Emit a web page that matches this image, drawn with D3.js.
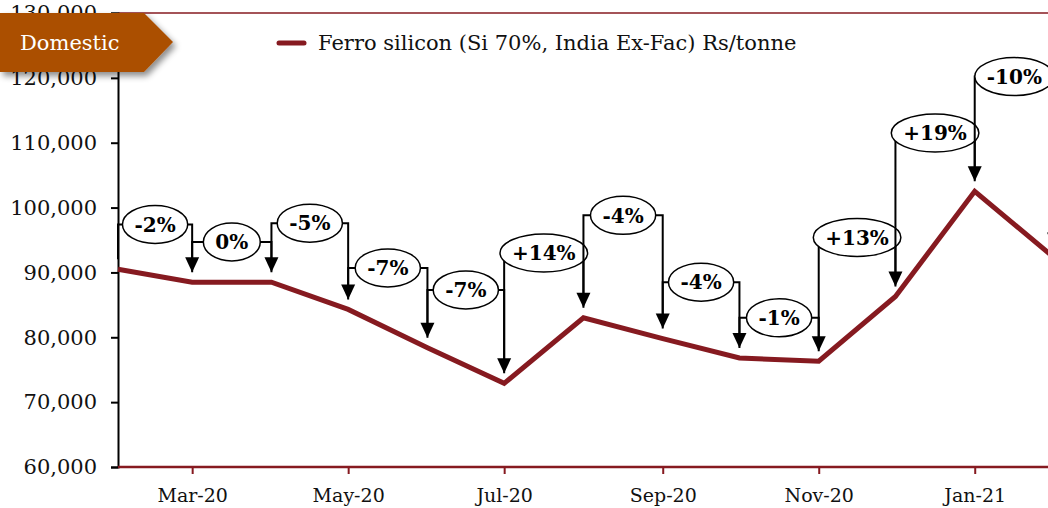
<!DOCTYPE html>
<html>
<head>
<meta charset="utf-8">
<script src="https://cdn.jsdelivr.net/npm/d3@7"></script>
<style>
  body { margin: 0; background: #fff; }
  svg { display: block; font-family: "DejaVu Serif", Georgia, serif; }
</style>
</head>
<body>
<div id="chart"></div>
<script>
// monthly prices, Rs/tonne
var months = ["2020-02", "2020-03", "2020-04", "2020-05", "2020-06", "2020-07", "2020-08",
              "2020-09", "2020-10", "2020-11", "2020-12", "2021-01", "2021-02"];
var prices = [90500, 88500, 88500, 84300, 78400, 72900, 83000, 79800, 76800, 76300, 86300, 102500, 92300];

// month on month change callouts (between month i and i+1)
var changeLabels = ["-2%", "0%", "-5%", "-7%", "-7%", "+14%", "-4%", "-4%", "-1%", "+13%", "+19%", "-10%"];
// height of each callout, in Rs/tonne (layout only)
var labelLevels = [97400, 94700, 97600, 90700, 87300, 93000, 98800, 88500, 83000, 95400, 111500, 120200];

var yTicks = [60000, 70000, 80000, 90000, 100000, 110000, 120000, 130000];
var xTickMonths = ["2020-03", "2020-05", "2020-07", "2020-09", "2020-11", "2021-01"];
var seriesName = "Ferro silicon (Si 70%, India Ex-Fac) Rs/tonne";
var bannerText = "Domestic";

var width = 1048, height = 508;
var red = "#861a20", ink = "#000";
var parse = d3.timeParse("%Y-%m");
var dates = months.map(parse);

var svg = d3.select("#chart").append("svg")
    .attr("width", width)
    .attr("height", height);

var x = d3.scaleTime()
    .domain([parse("2020-02"), parse("2021-02")])
    .range([118, 1054]);

var y = d3.scaleLinear()
    .domain([60000, 130000])
    .range([467, 13]);

// top frame line
svg.append("line")
    .attr("x1", 118).attr("x2", width)
    .attr("y1", y(130000)).attr("y2", y(130000))
    .style("stroke", red).style("stroke-width", 1.5);

// y axis
var yAxis = svg.append("g")
    .attr("transform", "translate(118,0)")
    .call(d3.axisLeft(y).tickValues(yTicks).tickSize(7).tickPadding(14).tickFormat(d3.format(",")));
yAxis.select(".domain").style("stroke", ink).style("stroke-width", 2);
yAxis.selectAll(".tick line").style("stroke", ink).style("stroke-width", 2);
yAxis.selectAll("text").style("font-size", "21px").style("fill", "#111")
    .style("font-family", "DejaVu Serif, serif");

// x axis
var xAxis = svg.append("g")
    .attr("transform", "translate(0," + y(60000) + ")")
    .call(d3.axisBottom(x).tickValues(xTickMonths.map(parse)).tickSize(7).tickPadding(15)
        .tickFormat(d3.timeFormat("%b-%y")));
xAxis.select(".domain").attr("d", "M118,0H" + width).style("stroke", red).style("stroke-width", 2.5);
xAxis.selectAll(".tick line").style("stroke", red).style("stroke-width", 2);
xAxis.selectAll("text").style("font-size", "19px").style("fill", "#111")
    .style("font-family", "DejaVu Serif, serif");

// price line
var line = d3.line()
    .x(function (d, i) { return x(dates[i]); })
    .y(function (d) { return y(d); });

svg.append("path")
    .datum(prices)
    .attr("d", line)
    .style("fill", "none")
    .style("stroke", red)
    .style("stroke-width", 5)
    .style("stroke-linejoin", "miter");

// change callouts
var notes = svg.append("g");
changeLabels.forEach(function (lab, i) {
    var x0 = x(dates[i]), x1 = x(dates[i + 1]);
    var ly = y(labelLevels[i]);
    var tip0 = y(prices[i]) - 10, tip1 = y(prices[i + 1]) - 10;

    var g = notes.append("g");
    g.append("path")
        .attr("d", "M" + x0 + "," + tip0 + "V" + ly + "H" + x1 + "V" + (tip1 - 14))
        .style("fill", "none").style("stroke", ink).style("stroke-width", 2);
    g.append("path")
        .attr("d", "M" + (x1 - 7) + "," + (tip1 - 15) + "L" + (x1 + 7) + "," + (tip1 - 15) + "L" + x1 + "," + tip1 + "Z")
        .style("fill", ink);

    var cx = (x0 + x1) / 2;
    var el = g.append("ellipse")
        .attr("cx", cx).attr("cy", ly)
        .style("fill", "#fff").style("stroke", ink).style("stroke-width", 1.5);
    var t = g.append("text")
        .attr("x", cx).attr("y", ly)
        .attr("dy", "0.36em")
        .attr("text-anchor", "middle")
        .style("font-size", "20px")
        .style("font-weight", "bold")
        .text(lab);
    var w = t.node().getBBox().width;
    el.attr("rx", w / 2 + 12).attr("ry", 19);
});

// legend
svg.append("line")
    .attr("x1", 279).attr("x2", 304)
    .attr("y1", 43).attr("y2", 43)
    .style("stroke", red).style("stroke-width", 5).style("stroke-linecap", "round");
svg.append("text")
    .attr("x", 318).attr("y", 43)
    .attr("dy", "0.35em")
    .style("font-size", "21px")
    .style("fill", "#111")
    .text(seriesName);

// banner
var defs = svg.append("defs");
var f = defs.append("filter").attr("id", "shadow")
    .attr("x", "-20%").attr("y", "-30%").attr("width", "150%").attr("height", "170%");
f.append("feDropShadow")
    .attr("dx", 3).attr("dy", 4).attr("stdDeviation", 3)
    .attr("flood-color", "#000").attr("flood-opacity", 0.45);

svg.append("path")
    .attr("d", "M0,13H144L173,42L144,72H0Z")
    .attr("filter", "url(#shadow)")
    .style("fill", "#ab5000");
svg.append("text")
    .attr("x", 20).attr("y", 43)
    .attr("dy", "0.35em")
    .style("font-size", "21px")
    .style("fill", "#fff")
    .text(bannerText);
</script>
</body>
</html>
